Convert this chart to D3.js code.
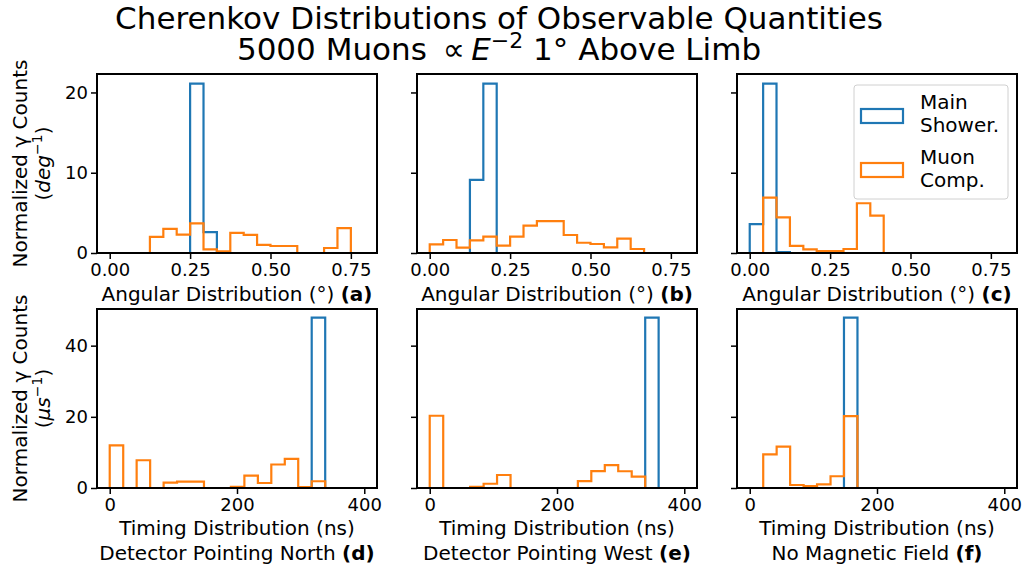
<!DOCTYPE html>
<html>
<head>
<meta charset="utf-8">
<script src="https://cdn.jsdelivr.net/npm/d3@7"></script>
<style>
  body { margin: 0; background: #fff; }
  svg { display: block; font-family: "DejaVu Sans", sans-serif; }
</style>
</head>
<body>
<div id="chart"></div>
<script>
"use strict";

// bin edges
var angleEdges = [0, 0.0417, 0.0833, 0.125, 0.1667, 0.2083, 0.25, 0.2917, 0.3333, 0.375,
    0.4167, 0.4583, 0.5, 0.5417, 0.5833, 0.625, 0.6667, 0.7083, 0.75, 0.7917];
var timeEdges = [0, 21.2, 42.3, 63.5, 84.7, 105.8, 127.0, 148.1, 169.3, 190.4, 211.6,
    232.8, 253.9, 275.1, 296.2, 317.4, 338.6, 359.7];

// normalized counts per bin (deg^-1)
var angleMainA = [0, 0, 0, 0, 0, 0, 21.1, 2.6, 0, 0, 0, 0, 0, 0, 0, 0, 0, 0, 0];
var angleMuonA = [0, 0, 0, 2.0, 3.0, 2.3, 3.7, 0.45, 0.2, 2.5, 2.25, 1.0, 0.87, 0.87, 0, 0, 0.62, 3.1, 0];
var angleMainB = [0, 0, 0, 9.1, 21.1, 0, 0, 0, 0, 0, 0, 0, 0, 0, 0, 0, 0, 0, 0];
var angleMuonB = [1.08, 1.62, 0.66, 1.58, 2.03, 0.91, 2.03, 3.4, 3.98, 3.98, 2.24, 1.28, 1.12, 0.71, 1.78, 0.5, 0, 0, 0];
var angleMainC = [3.6, 21.1, 0.12, 0, 0, 0, 0, 0, 0, 0, 0, 0, 0, 0, 0, 0, 0, 0, 0];
var angleMuonC = [0, 6.9, 4.45, 0.9, 0.45, 0.25, 0.25, 0.5, 6.2, 4.65, 0, 0, 0, 0, 0, 0, 0, 0, 0];

// normalized counts per bin (us^-1)
var timeMainD = [0, 0, 0, 0, 0, 0, 0, 0, 0, 0, 0, 0, 0, 0, 0, 47.9, 0];
var timeMuonD = [12.0, 0, 7.8, 0, 1.5, 1.8, 1.8, 0, 0, 0.35, 3.45, 1.4, 6.6, 8.2, 0.25, 1.9, 0];
var timeMainE = [0, 0, 0, 0, 0, 0, 0, 0, 0, 0, 0, 0, 0, 0, 0, 0, 47.9];
var timeMuonE = [20.3, 0, 0, 0.3, 1.2, 3.65, 0, 0, 0, 0, 0, 1.95, 4.75, 6.45, 4.7, 3.2, 0];
var timeMainF = [0, 0, 0, 0, 0, 0, 0, 47.9];
var timeMuonF = [0, 9.45, 11.6, 0.85, 0.55, 1.0, 3.3, 20.2];

var angleTicks = [0, 0.25, 0.5, 0.75];
var angleCountTicks = [0, 10, 20];
var timeTicks = [0, 200, 400];
var timeCountTicks = [0, 20, 40];

var seriesNames = ["Main\nShower.", "Muon\nComp."];
var panelLetters = ["a", "b", "c", "d", "e", "f"];
var bottomCaptions = ["Detector Pointing North", "Detector Pointing West", "No Magnetic Field"];

var colors = ["#1f77b4", "#ff7f0e"];

var width = 1028, height = 573;
var colLeft = [97, 417, 737];
var rowTop = [74, 309];
var panelW = 280, panelH = 179;

var svg = d3.select("#chart").append("svg")
    .attr("width", width)
    .attr("height", height);

var panels = [
    {row: 0, col: 0, edges: angleEdges, main: angleMainA, muon: angleMuonA},
    {row: 0, col: 1, edges: angleEdges, main: angleMainB, muon: angleMuonB},
    {row: 0, col: 2, edges: angleEdges, main: angleMainC, muon: angleMuonC},
    {row: 1, col: 0, edges: timeEdges, main: timeMainD, muon: timeMuonD},
    {row: 1, col: 1, edges: timeEdges, main: timeMainE, muon: timeMuonE},
    {row: 1, col: 2, edges: timeEdges, main: timeMainF, muon: timeMuonF}
];

function stepPoints(edges, counts) {
    var pts = [[edges[0], 0]];
    counts.forEach(function (c, i) {
        pts.push([edges[i], c]);
        pts.push([edges[i + 1], c]);
    });
    pts.push([edges[counts.length], 0]);
    return pts;
}

panels.forEach(function (p, i) {
    var left = colLeft[p.col], top = rowTop[p.row];
    var x = d3.scaleLinear()
        .domain(p.row === 0 ? [-0.0396, 0.8313] : [-20, 420])
        .range([left, left + panelW]);
    var y = d3.scaleLinear()
        .domain(p.row === 0 ? [0, 22.3] : [0, 50.3])
        .range([top + panelH, top]);

    var line = d3.line()
        .x(function (d) { return x(d[0]); })
        .y(function (d) { return y(d[1]); });

    [p.main, p.muon].forEach(function (counts, k) {
        svg.append("path")
            .attr("d", line(stepPoints(p.edges, counts)))
            .attr("fill", "none")
            .attr("stroke", colors[k])
            .attr("stroke-width", 2.2)
            .attr("stroke-linejoin", "miter");
    });

    svg.append("rect")
        .attr("x", left).attr("y", top)
        .attr("width", panelW).attr("height", panelH)
        .attr("fill", "none")
        .attr("stroke", "#000")
        .attr("stroke-width", 2);

    var xAxis = d3.axisBottom(x)
        .tickValues(p.row === 0 ? angleTicks : timeTicks)
        .tickFormat(p.row === 0 ? d3.format(".2f") : d3.format("d"))
        .tickSize(6).tickPadding(4);
    var yAxis = d3.axisLeft(y)
        .tickValues(p.row === 0 ? angleCountTicks : timeCountTicks)
        .tickSize(6).tickPadding(3);
    if (p.col > 0) yAxis.tickFormat(function () { return ""; });

    var gx = svg.append("g")
        .attr("transform", "translate(0," + (top + panelH) + ")")
        .call(xAxis);
    var gy = svg.append("g")
        .attr("transform", "translate(" + left + ",0)")
        .call(yAxis);
    [gx, gy].forEach(function (g) {
        g.select(".domain").remove();
        g.selectAll(".tick line").attr("stroke", "#000").attr("stroke-width", 1.5);
        g.selectAll(".tick text")
            .attr("fill", "#000")
            .style("font-family", "DejaVu Sans, sans-serif")
            .style("font-size", "18px");
    });

    // x label(s)
    var cx = left + panelW / 2;
    var lab = svg.append("text")
        .attr("x", cx)
        .attr("text-anchor", "middle")
        .style("font-size", "20px");
    if (p.row === 0) {
        lab.attr("y", top + panelH + 48);
        lab.append("tspan").text("Angular Distribution (°) ");
        lab.append("tspan").style("font-weight", "bold").text("(" + panelLetters[i] + ")");
    } else {
        lab.attr("y", top + panelH + 47).text("Timing Distribution (ns)");
        var lab2 = svg.append("text")
            .attr("x", cx)
            .attr("y", top + panelH + 72)
            .attr("text-anchor", "middle")
            .style("font-size", "20px");
        lab2.append("tspan").text(bottomCaptions[p.col] + " ");
        lab2.append("tspan").style("font-weight", "bold").text("(" + panelLetters[i] + ")");
    }
});

// y labels
[["deg"], ["μs"]].forEach(function (unit, r) {
    var cy = rowTop[r] + panelH / 2;
    svg.append("text")
        .attr("transform", "translate(27," + cy + ") rotate(-90)")
        .attr("text-anchor", "middle")
        .style("font-size", "20px")
        .text("Normalized γ Counts");
    var t2 = svg.append("text")
        .attr("transform", "translate(50," + cy + ") rotate(-90)")
        .attr("text-anchor", "middle")
        .style("font-size", "20px");
    t2.append("tspan").text("(");
    t2.append("tspan").style("font-style", "italic").text(unit[0]);
    t2.append("tspan").attr("dy", -8).style("font-size", "14px").text("−1");
    t2.append("tspan").attr("dy", 8).text(")");
});

// title
var titleX = 499;
svg.append("text")
    .attr("x", titleX).attr("y", 29)
    .attr("text-anchor", "middle")
    .style("font-size", "31px")
    .text("Cherenkov Distributions of Observable Quantities");
var t = svg.append("text")
    .attr("x", titleX).attr("y", 60)
    .attr("text-anchor", "middle")
    .style("font-size", "31px");
t.append("tspan").text("5000 Muons \u2009∝");
t.append("tspan").style("font-style", "italic").text("\u2009E");
t.append("tspan").attr("dy", -12).style("font-size", "22px").text("−2");
t.append("tspan").attr("dy", 12).text(" 1° Above Limb");

// legend in panel (c)
var legend = svg.append("g").attr("transform", "translate(854,85)");
legend.append("rect")
    .attr("width", 154).attr("height", 114)
    .attr("rx", 3).attr("ry", 3)
    .attr("fill", "#fff").attr("fill-opacity", 0.8)
    .attr("stroke", "#d0d0d0").attr("stroke-width", 1);
seriesNames.forEach(function (name, k) {
    var gy = 24 + k * 54;
    legend.append("rect")
        .attr("x", 7).attr("y", gy)
        .attr("width", 42).attr("height", 14)
        .attr("fill", "none")
        .attr("stroke", colors[k])
        .attr("stroke-width", 2.2);
    name.split("\n").forEach(function (s, j) {
        legend.append("text")
            .attr("x", 66)
            .attr("y", 24 + k * 55 + j * 23)
            .style("font-size", "20px")
            .text(s);
    });
});
</script>
</body>
</html>
